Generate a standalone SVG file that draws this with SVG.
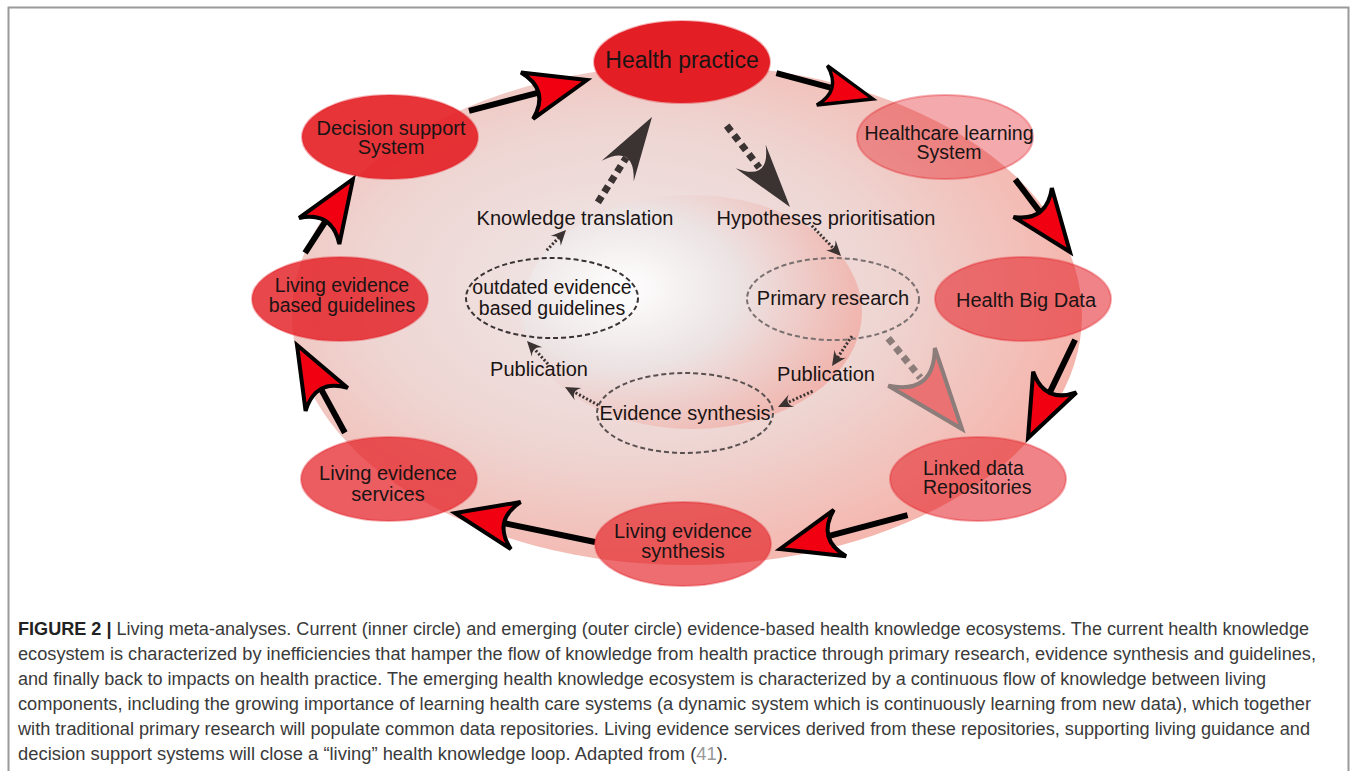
<svg xmlns="http://www.w3.org/2000/svg" xmlns:xlink="http://www.w3.org/1999/xlink" width="1355" height="771" viewBox="0 0 1355 771">
<style>
.lbl{font-family:"Liberation Sans",Arial,sans-serif;font-size:20px;fill:#1a1414;text-anchor:middle}
.sm{font-size:19.5px}
.big{font-size:23px}
.cap{font-family:"Liberation Sans",Arial,sans-serif;font-size:17.5px;fill:#3a3a3a}
.node{fill:#e31e24;stroke:#e31e24;stroke-width:2;stroke-opacity:.35}
.shaft{stroke:#000;stroke-width:6;fill:none}
.head{fill:#f00010;stroke:#000;stroke-width:4;stroke-linejoin:miter}
.dhead{fill:#3b3232;stroke:none}
.dsq{stroke:#3b3232;stroke-width:7;stroke-dasharray:7 5;fill:none}
.gsq{stroke:#8c7c7a;stroke-width:7;stroke-dasharray:7 5;fill:none}
.dot{stroke:#3b3232;stroke-width:3;stroke-dasharray:2 2;fill:none}
.dash{fill:none;stroke-width:2;stroke-dasharray:5 3}
</style>
<defs>
<radialGradient id="gOut" cx="0.42" cy="0.45" r="0.6">
<stop offset="0" stop-color="#efe9e9"/>
<stop offset="0.55" stop-color="#eed5d2"/>
<stop offset="1" stop-color="#f5b4ab"/>
</radialGradient>
<radialGradient id="gIn" cx="0.3" cy="0.4" r="0.75">
<stop offset="0" stop-color="#ffffff"/>
<stop offset="0.45" stop-color="#ece3e3"/>
<stop offset="1" stop-color="#f1b0a8"/>
</radialGradient>
<path id="bigHead" d="M0,0 L-62,-24 Q-38,0 -62,24 Z"/>
<path id="darkHead" d="M0,0 L-64,-19 Q-32,0 -64,19 Z"/>
<path id="greyHead" d="M0,0 L-80,-30 Q-44,0 -80,30 Z"/>
<path id="smallHead" d="M0,0 L-15,-7 Q-7,0 -15,7 Z"/>
</defs>
<rect width="1355" height="771" fill="#fff"/>
<path d="M8.5,771 V7.5 H1348.5 V771" fill="none" stroke="#9a9a9a" stroke-width="2"/>

<g id="background">
<ellipse cx="687" cy="315" rx="395" ry="250" fill="url(#gOut)"/>
<ellipse cx="692" cy="312" rx="170" ry="117" fill="url(#gIn)"/>
</g>

<g id="connectors">
<g transform="translate(587,80) rotate(-14.7)"><line x1="-122" y1="0" x2="-50" y2="0" class="shaft"/><use xlink:href="#bigHead" class="head"/></g>
<g transform="translate(873,99) rotate(15)"><line x1="-100" y1="0" x2="-44" y2="0" class="shaft"/><use xlink:href="#bigHead" class="head" transform="scale(0.85)"/></g>
<g transform="translate(1070,252) rotate(53)"><line x1="-91" y1="0" x2="-50" y2="0" class="shaft"/><use xlink:href="#bigHead" class="head"/></g>
<g transform="translate(1028,438) rotate(115.6)"><line x1="-109" y1="0" x2="-50" y2="0" class="shaft"/><use xlink:href="#bigHead" class="head"/></g>
<g transform="translate(780,549) rotate(165.1)"><line x1="-132" y1="0" x2="-50" y2="0" class="shaft"/><use xlink:href="#bigHead" class="head"/></g>
<g transform="translate(455,513) rotate(191.7)"><line x1="-143" y1="0" x2="-50" y2="0" class="shaft"/><use xlink:href="#bigHead" class="head"/></g>
<g transform="translate(297,345) rotate(241.4)"><line x1="-100" y1="0" x2="-50" y2="0" class="shaft"/><use xlink:href="#bigHead" class="head"/></g>
<g transform="translate(353,179) rotate(-57)"><line x1="-88" y1="0" x2="-50" y2="0" class="shaft"/><use xlink:href="#bigHead" class="head"/></g>
<g transform="translate(652,117) rotate(-57.6)"><line x1="-101" y1="0" x2="-48" y2="0" class="dsq"/><use xlink:href="#darkHead" class="dhead"/></g>
<g transform="translate(790,207) rotate(52.1)"><line x1="-103" y1="0" x2="-50" y2="0" class="dsq"/><use xlink:href="#darkHead" class="dhead"/></g>
<g transform="translate(962,429) rotate(50.9)"><line x1="-117" y1="0" x2="-66" y2="0" class="gsq"/><use xlink:href="#greyHead" fill="#ea7272" stroke="#8c7c7a" stroke-width="4"/></g>
<g transform="translate(841,256) rotate(46)"><line x1="-42" y1="0" x2="-8" y2="0" class="dot"/><use xlink:href="#smallHead" class="dhead"/></g>
<g transform="translate(832,366) rotate(123.7)"><line x1="-36" y1="0" x2="-8" y2="0" class="dot"/><use xlink:href="#smallHead" class="dhead"/></g>
<g transform="translate(778,407) rotate(155.4)"><line x1="-38" y1="0" x2="-8" y2="0" class="dot"/><use xlink:href="#smallHead" class="dhead"/></g>
<g transform="translate(565,387) rotate(208.6)"><line x1="-38" y1="0" x2="-8" y2="0" class="dot"/><use xlink:href="#smallHead" class="dhead"/></g>
<g transform="translate(527,341) rotate(227.6)"><line x1="-31" y1="0" x2="-8" y2="0" class="dot"/><use xlink:href="#smallHead" class="dhead"/></g>
<g transform="translate(566,230) rotate(-46.5)"><line x1="-28" y1="0" x2="-8" y2="0" class="dot"/><use xlink:href="#smallHead" class="dhead"/></g>
</g>

<g id="n-outdated">
<ellipse cx="552" cy="298" rx="86" ry="40" class="dash" stroke="#3a3333"/>
<text class="lbl sm" x="552" y="294">outdated evidence</text>
<text class="lbl sm" x="552" y="315">based guidelines</text>
</g>
<g id="n-primary">
<ellipse cx="833" cy="299" rx="86" ry="41" class="dash" stroke="#7a7070"/>
<text class="lbl" x="833" y="305">Primary research</text>
</g>
<g id="n-evsynth">
<ellipse cx="685" cy="413" rx="88" ry="40" class="dash" stroke="#5a5050"/>
<text class="lbl" x="685" y="420">Evidence synthesis</text>
</g>
<g id="l-knowledge"><text class="lbl" x="575" y="225">Knowledge translation</text></g>
<g id="l-hypo"><text class="lbl" x="826" y="225">Hypotheses prioritisation</text></g>
<g id="l-pub1"><text class="lbl" x="539" y="376">Publication</text></g>
<g id="l-pub2"><text class="lbl" x="826" y="381">Publication</text></g>

<g id="n-health-practice">
<ellipse cx="682" cy="62" rx="88" ry="41" class="node"/>
<text class="lbl big" x="682" y="68">Health practice</text>
</g>
<g id="n-learning">
<ellipse cx="945" cy="137" rx="88" ry="42" class="node" fill-opacity="0.38"/>
<text class="lbl sm" x="949" y="140">Healthcare learning</text>
<text class="lbl sm" x="949" y="159">System</text>
</g>
<g id="n-bigdata">
<ellipse cx="1023" cy="299" rx="88" ry="42" class="node" fill-opacity="0.55"/>
<text class="lbl" x="1026" y="307">Health Big Data</text>
</g>
<g id="n-linked">
<ellipse cx="978" cy="479" rx="88" ry="42" class="node" fill-opacity="0.55"/>
<text class="lbl sm" x="923" y="475" style="text-anchor:start">Linked data</text>
<text class="lbl sm" x="923" y="494" style="text-anchor:start">Repositories</text>
</g>
<g id="n-living-synthesis">
<ellipse cx="683" cy="544" rx="88" ry="42" class="node" fill-opacity="0.65"/>
<text class="lbl" x="683" y="538">Living evidence</text>
<text class="lbl" x="683" y="558">synthesis</text>
</g>
<g id="n-living-services">
<ellipse cx="389" cy="479" rx="88" ry="42" class="node" fill-opacity="0.72"/>
<text class="lbl" x="388" y="480">Living evidence</text>
<text class="lbl" x="388" y="501">services</text>
</g>
<g id="n-living-guidelines">
<ellipse cx="340" cy="299" rx="88" ry="42" class="node" fill-opacity="0.82"/>
<text class="lbl sm" x="342" y="292">Living evidence</text>
<text class="lbl sm" x="342" y="312">based guidelines</text>
</g>
<g id="n-decision">
<ellipse cx="390" cy="137" rx="88" ry="42" class="node" fill-opacity="0.9"/>
<text class="lbl" x="391" y="135">Decision support</text>
<text class="lbl" x="391" y="154">System</text>
</g>

<g id="caption">
<text class="cap" x="18" y="635" textLength="1291" lengthAdjust="spacingAndGlyphs"><tspan font-weight="bold" fill="#222">FIGURE 2 |</tspan> Living meta-analyses. Current (inner circle) and emerging (outer circle) evidence-based health knowledge ecosystems. The current health knowledge</text>
<text class="cap" x="18" y="660" textLength="1298" lengthAdjust="spacingAndGlyphs">ecosystem is characterized by inefficiencies that hamper the flow of knowledge from health practice through primary research, evidence synthesis and guidelines,</text>
<text class="cap" x="18" y="685" textLength="1248" lengthAdjust="spacingAndGlyphs">and finally back to impacts on health practice. The emerging health knowledge ecosystem is characterized by a continuous flow of knowledge between living</text>
<text class="cap" x="18" y="710" textLength="1293" lengthAdjust="spacingAndGlyphs">components, including the growing importance of learning health care systems (a dynamic system which is continuously learning from new data), which together</text>
<text class="cap" x="18" y="735" textLength="1292" lengthAdjust="spacingAndGlyphs">with traditional primary research will populate common data repositories. Living evidence services derived from these repositories, supporting living guidance and</text>
<text class="cap" x="18" y="760" textLength="710" lengthAdjust="spacingAndGlyphs">decision support systems will close a “living” health knowledge loop. Adapted from (<tspan fill="#999">41</tspan>).</text>
</g>
</svg>
